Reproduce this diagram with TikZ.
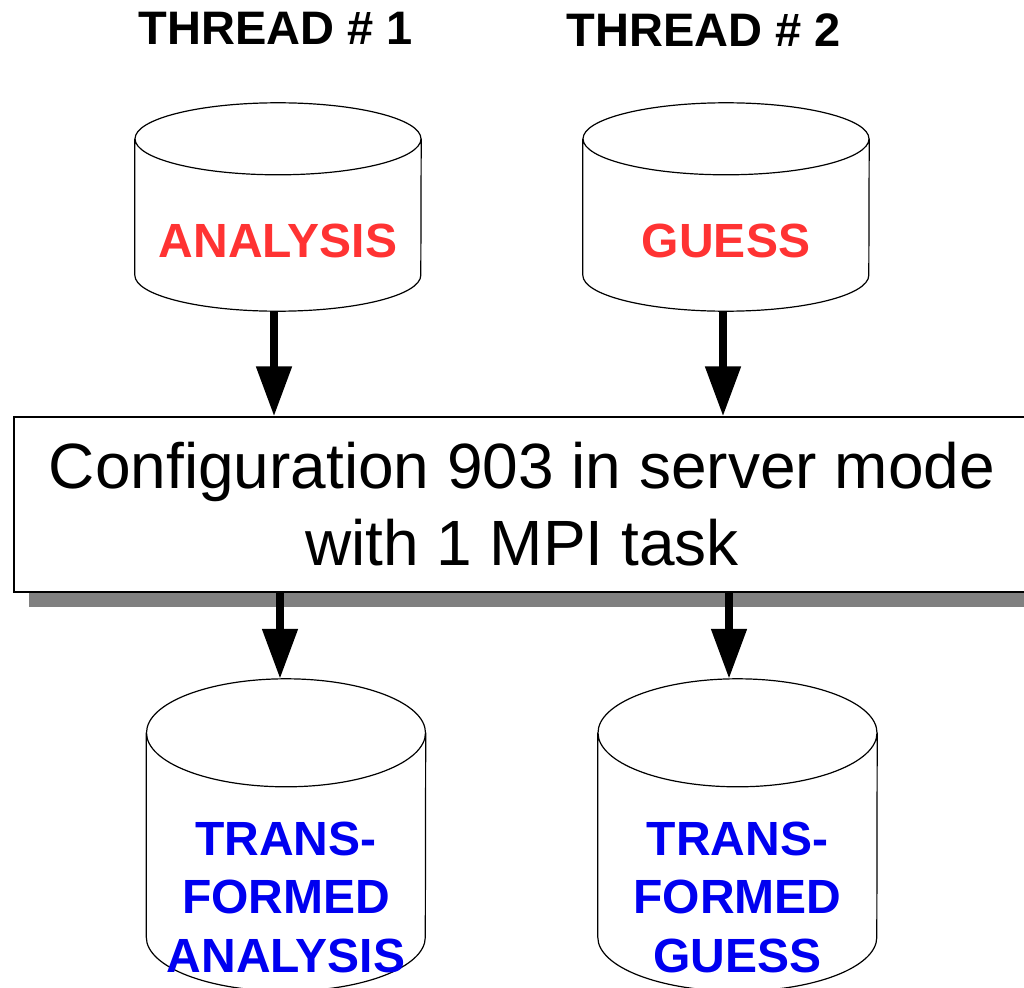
\documentclass[tikz,border=0pt]{standalone}
\usepackage{fontspec}
\setmainfont{Liberation Sans}
\usetikzlibrary{arrows.meta,shadows,positioning}
\definecolor{anared}{RGB}{255,51,51}
\definecolor{trfblue}{RGB}{0,0,240}
\begin{document}
\begin{tikzpicture}[x=1pt,y=-1pt]
	\tikzstyle{Title}	= [font=\bfseries\fontsize{47}{56}\selectfont, anchor=base]
	\tikzstyle{Body}	= [inner sep=0pt]
	\tikzstyle{Input}	= [Body, minimum width=286pt, minimum height=136pt]
	\tikzstyle{Output}	= [Body, minimum width=279pt, minimum height=204pt]
	\tikzstyle{DiskLine}	= [line width=1.2pt]
	\tikzstyle{Red}		= [text=anared, anchor=base, font=\bfseries\fontsize{48}{58}\selectfont]
	\tikzstyle{Blue}	= [text=trfblue, anchor=base, align=center, font=\bfseries\fontsize{48}{58.5}\selectfont]
	\tikzstyle{Flow}	= [line width=8pt, -{Triangle[width=34pt,length=50pt]}]
	\tikzstyle{Server}	= [draw, line width=1.2pt, fill=white, minimum width=1016pt, minimum height=175pt,
						   align=center, font=\fontsize{64}{77}\selectfont,
						   drop shadow={shadow xshift=15pt, shadow yshift=-15pt, fill=gray, opacity=1}]

	\useasboundingbox (0,0) rectangle (1024,987);

	\node (thr1) at (276,45) [Title] {THREAD \# 1};
	\node (thr2) at (704,47) [Title] {THREAD \# 2};

	% disks: body nodes, outline drawn below
	\node (ana) at (278,207) [Input] {};
	\node (gue) at (726,207) [Input] {};
	\node (tana) at (286,835) [Output] {};
	\node (tgue) at (737.5,835) [Output] {};

	\foreach \n/\rx/\ry in {ana/143pt/36pt, gue/143pt/36pt, tana/139.5pt/54pt, tgue/139.5pt/54pt}
		\draw [DiskLine] (\n.north west) -- (\n.south west)
			arc [start angle=180, end angle=360, x radius=\rx, y radius=\ry] -- (\n.north east)
			(\n.north) ellipse [x radius=\rx, y radius=\ry];

	\node (anatxt) at ([yshift=-50pt]ana.center) [Red] {ANALYSIS};
	\node (guetxt) at ([yshift=-50pt]gue.center) [Red] {GUESS};
	\node (tanatxt) at ([yshift=-137pt]tana.center) [Blue] {TRANS-\\FORMED\\ANALYSIS};
	\node (tguetxt) at ([yshift=-137pt]tgue.center) [Blue] {TRANS-\\FORMED\\GUESS};

	\node (srv) at (522,504.5) [Server] {Configuration 903 in server mode\\with 1 MPI task};

	\draw [Flow] ([xshift=-4pt,yshift=-36pt]ana.south) -- ([xshift=-4pt]ana.south |- srv.north);
	\draw [Flow] ([xshift=-3pt,yshift=-36pt]gue.south) -- ([xshift=-3pt]gue.south |- srv.north);
	\draw [Flow] ([xshift=-6pt]tana.north |- srv.south) -- ([xshift=-6pt,yshift=54pt]tana.north);
	\draw [Flow] ([xshift=-8.5pt]tgue.north |- srv.south) -- ([xshift=-8.5pt,yshift=54pt]tgue.north);
\end{tikzpicture}
\end{document}
